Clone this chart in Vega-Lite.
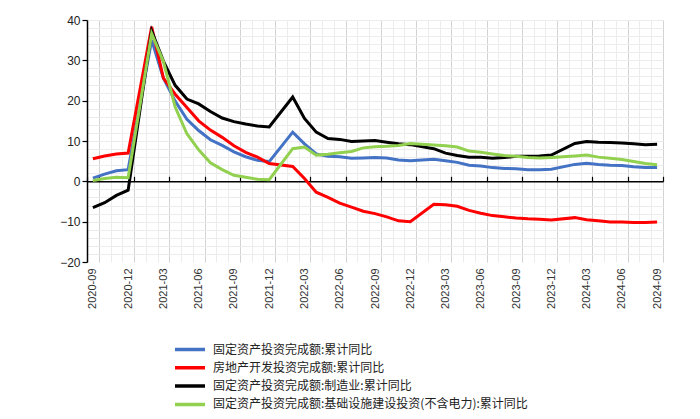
{
  "$schema": "https://vega.github.io/schema/vega-lite/v6.json",
  "width": 576,
  "height": 242,
  "autosize": "none",
  "padding": {"left": 87, "top": 20, "right": 37, "bottom": 157},
  "config": {"view": {"stroke": null}, "axis": {"labelFont": "Liberation Sans", "labelColor": "#333333"}},
  "data": {
    "values": [
      {"month": "2020-09", "固定资产投资完成额:累计同比": 0.8, "房地产开发投资完成额:累计同比": 5.6, "固定资产投资完成额:制造业:累计同比": -6.5, "固定资产投资完成额:基础设施建设投资(不含电力):累计同比": 0.2},
      {"month": "2020-10", "固定资产投资完成额:累计同比": 1.8, "房地产开发投资完成额:累计同比": 6.3, "固定资产投资完成额:制造业:累计同比": -5.3, "固定资产投资完成额:基础设施建设投资(不含电力):累计同比": 0.7},
      {"month": "2020-11", "固定资产投资完成额:累计同比": 2.6, "房地产开发投资完成额:累计同比": 6.8, "固定资产投资完成额:制造业:累计同比": -3.5, "固定资产投资完成额:基础设施建设投资(不含电力):累计同比": 1.0},
      {"month": "2020-12", "固定资产投资完成额:累计同比": 2.9, "房地产开发投资完成额:累计同比": 7.0, "固定资产投资完成额:制造业:累计同比": -2.2, "固定资产投资完成额:基础设施建设投资(不含电力):累计同比": 0.9},
      {"month": "2021-02", "固定资产投资完成额:累计同比": 35.0, "房地产开发投资完成额:累计同比": 38.3, "固定资产投资完成额:制造业:累计同比": 37.3, "固定资产投资完成额:基础设施建设投资(不含电力):累计同比": 36.6},
      {"month": "2021-03", "固定资产投资完成额:累计同比": 25.6, "房地产开发投资完成额:累计同比": 25.6, "固定资产投资完成额:制造业:累计同比": 29.8, "固定资产投资完成额:基础设施建设投资(不含电力):累计同比": 29.7},
      {"month": "2021-04", "固定资产投资完成额:累计同比": 19.9, "房地产开发投资完成额:累计同比": 21.6, "固定资产投资完成额:制造业:累计同比": 23.8, "固定资产投资完成额:基础设施建设投资(不含电力):累计同比": 18.4},
      {"month": "2021-05", "固定资产投资完成额:累计同比": 15.4, "房地产开发投资完成额:累计同比": 18.3, "固定资产投资完成额:制造业:累计同比": 20.4, "固定资产投资完成额:基础设施建设投资(不含电力):累计同比": 11.8},
      {"month": "2021-06", "固定资产投资完成额:累计同比": 12.6, "房地产开发投资完成额:累计同比": 15.0, "固定资产投资完成额:制造业:累计同比": 19.2, "固定资产投资完成额:基础设施建设投资(不含电力):累计同比": 7.8},
      {"month": "2021-07", "固定资产投资完成额:累计同比": 10.3, "房地产开发投资完成额:累计同比": 12.7, "固定资产投资完成额:制造业:累计同比": 17.3, "固定资产投资完成额:基础设施建设投资(不含电力):累计同比": 4.6},
      {"month": "2021-08", "固定资产投资完成额:累计同比": 8.9, "房地产开发投资完成额:累计同比": 10.9, "固定资产投资完成额:制造业:累计同比": 15.7, "固定资产投资完成额:基础设施建设投资(不含电力):累计同比": 2.9},
      {"month": "2021-09", "固定资产投资完成额:累计同比": 7.3, "房地产开发投资完成额:累计同比": 8.8, "固定资产投资完成额:制造业:累计同比": 14.8, "固定资产投资完成额:基础设施建设投资(不含电力):累计同比": 1.5},
      {"month": "2021-10", "固定资产投资完成额:累计同比": 6.1, "房地产开发投资完成额:累计同比": 7.2, "固定资产投资完成额:制造业:累计同比": 14.2, "固定资产投资完成额:基础设施建设投资(不含电力):累计同比": 1.0},
      {"month": "2021-11", "固定资产投资完成额:累计同比": 5.2, "房地产开发投资完成额:累计同比": 6.0, "固定资产投资完成额:制造业:累计同比": 13.7, "固定资产投资完成额:基础设施建设投资(不含电力):累计同比": 0.5},
      {"month": "2021-12", "固定资产投资完成额:累计同比": 4.9, "房地产开发投资完成额:累计同比": 4.4, "固定资产投资完成额:制造业:累计同比": 13.5, "固定资产投资完成额:基础设施建设投资(不含电力):累计同比": 0.4},
      {"month": "2022-02", "固定资产投资完成额:累计同比": 12.2, "房地产开发投资完成额:累计同比": 3.7, "固定资产投资完成额:制造业:累计同比": 20.9, "固定资产投资完成额:基础设施建设投资(不含电力):累计同比": 8.1},
      {"month": "2022-03", "固定资产投资完成额:累计同比": 9.3, "房地产开发投资完成额:累计同比": 0.7, "固定资产投资完成额:制造业:累计同比": 15.6, "固定资产投资完成额:基础设施建设投资(不含电力):累计同比": 8.5},
      {"month": "2022-04", "固定资产投资完成额:累计同比": 6.8, "房地产开发投资完成额:累计同比": -2.7, "固定资产投资完成额:制造业:累计同比": 12.2, "固定资产投资完成额:基础设施建设投资(不含电力):累计同比": 6.5},
      {"month": "2022-05", "固定资产投资完成额:累计同比": 6.2, "房地产开发投资完成额:累计同比": -4.0, "固定资产投资完成额:制造业:累计同比": 10.6, "固定资产投资完成额:基础设施建设投资(不含电力):累计同比": 6.7},
      {"month": "2022-06", "固定资产投资完成额:累计同比": 6.1, "房地产开发投资完成额:累计同比": -5.4, "固定资产投资完成额:制造业:累计同比": 10.4, "固定资产投资完成额:基础设施建设投资(不含电力):累计同比": 7.1},
      {"month": "2022-07", "固定资产投资完成额:累计同比": 5.7, "房地产开发投资完成额:累计同比": -6.4, "固定资产投资完成额:制造业:累计同比": 9.9, "固定资产投资完成额:基础设施建设投资(不含电力):累计同比": 7.4},
      {"month": "2022-08", "固定资产投资完成额:累计同比": 5.8, "房地产开发投资完成额:累计同比": -7.4, "固定资产投资完成额:制造业:累计同比": 10.0, "固定资产投资完成额:基础设施建设投资(不含电力):累计同比": 8.3},
      {"month": "2022-09", "固定资产投资完成额:累计同比": 5.9, "房地产开发投资完成额:累计同比": -8.0, "固定资产投资完成额:制造业:累计同比": 10.1, "固定资产投资完成额:基础设施建设投资(不含电力):累计同比": 8.6},
      {"month": "2022-10", "固定资产投资完成额:累计同比": 5.8, "房地产开发投资完成额:累计同比": -8.8, "固定资产投资完成额:制造业:累计同比": 9.7, "固定资产投资完成额:基础设施建设投资(不含电力):累计同比": 8.7},
      {"month": "2022-11", "固定资产投资完成额:累计同比": 5.3, "房地产开发投资完成额:累计同比": -9.8, "固定资产投资完成额:制造业:累计同比": 9.3, "固定资产投资完成额:基础设施建设投资(不含电力):累计同比": 8.9},
      {"month": "2022-12", "固定资产投资完成额:累计同比": 5.1, "房地产开发投资完成额:累计同比": -10.0, "固定资产投资完成额:制造业:累计同比": 9.1, "固定资产投资完成额:基础设施建设投资(不含电力):累计同比": 9.4},
      {"month": "2023-02", "固定资产投资完成额:累计同比": 5.5, "房地产开发投资完成额:累计同比": -5.7, "固定资产投资完成额:制造业:累计同比": 8.1, "固定资产投资完成额:基础设施建设投资(不含电力):累计同比": 9.0},
      {"month": "2023-03", "固定资产投资完成额:累计同比": 5.1, "房地产开发投资完成额:累计同比": -5.8, "固定资产投资完成额:制造业:累计同比": 7.0, "固定资产投资完成额:基础设施建设投资(不含电力):累计同比": 8.8},
      {"month": "2023-04", "固定资产投资完成额:累计同比": 4.7, "房地产开发投资完成额:累计同比": -6.2, "固定资产投资完成额:制造业:累计同比": 6.4, "固定资产投资完成额:基础设施建设投资(不含电力):累计同比": 8.5},
      {"month": "2023-05", "固定资产投资完成额:累计同比": 4.0, "房地产开发投资完成额:累计同比": -7.2, "固定资产投资完成额:制造业:累计同比": 6.0, "固定资产投资完成额:基础设施建设投资(不含电力):累计同比": 7.5},
      {"month": "2023-06", "固定资产投资完成额:累计同比": 3.8, "房地产开发投资完成额:累计同比": -7.9, "固定资产投资完成额:制造业:累计同比": 6.0, "固定资产投资完成额:基础设施建设投资(不含电力):累计同比": 7.2},
      {"month": "2023-07", "固定资产投资完成额:累计同比": 3.4, "房地产开发投资完成额:累计同比": -8.5, "固定资产投资完成额:制造业:累计同比": 5.7, "固定资产投资完成额:基础设施建设投资(不含电力):累计同比": 6.8},
      {"month": "2023-08", "固定资产投资完成额:累计同比": 3.2, "房地产开发投资完成额:累计同比": -8.8, "固定资产投资完成额:制造业:累计同比": 5.9, "固定资产投资完成额:基础设施建设投资(不含电力):累计同比": 6.4},
      {"month": "2023-09", "固定资产投资完成额:累计同比": 3.1, "房地产开发投资完成额:累计同比": -9.1, "固定资产投资完成额:制造业:累计同比": 6.2, "固定资产投资完成额:基础设施建设投资(不含电力):累计同比": 6.2},
      {"month": "2023-10", "固定资产投资完成额:累计同比": 2.9, "房地产开发投资完成额:累计同比": -9.3, "固定资产投资完成额:制造业:累计同比": 6.2, "固定资产投资完成额:基础设施建设投资(不含电力):累计同比": 5.9},
      {"month": "2023-11", "固定资产投资完成额:累计同比": 2.9, "房地产开发投资完成额:累计同比": -9.4, "固定资产投资完成额:制造业:累计同比": 6.3, "固定资产投资完成额:基础设施建设投资(不含电力):累计同比": 5.8},
      {"month": "2023-12", "固定资产投资完成额:累计同比": 3.0, "房地产开发投资完成额:累计同比": -9.6, "固定资产投资完成额:制造业:累计同比": 6.5, "固定资产投资完成额:基础设施建设投资(不含电力):累计同比": 5.9},
      {"month": "2024-02", "固定资产投资完成额:累计同比": 4.2, "房地产开发投资完成额:累计同比": -9.0, "固定资产投资完成额:制造业:累计同比": 9.4, "固定资产投资完成额:基础设施建设投资(不含电力):累计同比": 6.3},
      {"month": "2024-03", "固定资产投资完成额:累计同比": 4.5, "房地产开发投资完成额:累计同比": -9.5, "固定资产投资完成额:制造业:累计同比": 9.9, "固定资产投资完成额:基础设施建设投资(不含电力):累计同比": 6.5},
      {"month": "2024-04", "固定资产投资完成额:累计同比": 4.2, "房地产开发投资完成额:累计同比": -9.8, "固定资产投资完成额:制造业:累计同比": 9.7, "固定资产投资完成额:基础设施建设投资(不含电力):累计同比": 6.0},
      {"month": "2024-05", "固定资产投资完成额:累计同比": 4.0, "房地产开发投资完成额:累计同比": -10.1, "固定资产投资完成额:制造业:累计同比": 9.6, "固定资产投资完成额:基础设施建设投资(不含电力):累计同比": 5.7},
      {"month": "2024-06", "固定资产投资完成额:累计同比": 3.9, "房地产开发投资完成额:累计同比": -10.1, "固定资产投资完成额:制造业:累计同比": 9.5, "固定资产投资完成额:基础设施建设投资(不含电力):累计同比": 5.4},
      {"month": "2024-07", "固定资产投资完成额:累计同比": 3.6, "房地产开发投资完成额:累计同比": -10.2, "固定资产投资完成额:制造业:累计同比": 9.3, "固定资产投资完成额:基础设施建设投资(不含电力):累计同比": 4.9},
      {"month": "2024-08", "固定资产投资完成额:累计同比": 3.4, "房地产开发投资完成额:累计同比": -10.2, "固定资产投资完成额:制造业:累计同比": 9.1, "固定资产投资完成额:基础设施建设投资(不含电力):累计同比": 4.4},
      {"month": "2024-09", "固定资产投资完成额:累计同比": 3.4, "房地产开发投资完成额:累计同比": -10.1, "固定资产投资完成额:制造业:累计同比": 9.2, "固定资产投资完成额:基础设施建设投资(不含电力):累计同比": 4.1}
    ]
  },
  "transform": [
    {"fold": ["固定资产投资完成额:累计同比", "房地产开发投资完成额:累计同比", "固定资产投资完成额:制造业:累计同比", "固定资产投资完成额:基础设施建设投资(不含电力):累计同比"], "as": ["series", "value"]}
  ],
  "resolve": {"axis": {"x": "independent", "y": "independent"}},
  "layer": [
    {
      "mark": {"type": "line", "opacity": 0},
      "encoding": {
        "x": {"field": "month", "type": "ordinal", "sort": null,
          "scale": {"type": "band", "paddingInner": 0, "paddingOuter": 0, "domain": ["2020-09","2020-10","2020-11","2020-12","2021-01","2021-02","2021-03","2021-04","2021-05","2021-06","2021-07","2021-08","2021-09","2021-10","2021-11","2021-12","2022-01","2022-02","2022-03","2022-04","2022-05","2022-06","2022-07","2022-08","2022-09","2022-10","2022-11","2022-12","2023-01","2023-02","2023-03","2023-04","2023-05","2023-06","2023-07","2023-08","2023-09","2023-10","2023-11","2023-12","2024-01","2024-02","2024-03","2024-04","2024-05","2024-06","2024-07","2024-08","2024-09"]},
          "axis": {"orient": "bottom", "title": null, "labels": false, "ticks": false, "domain": false, "grid": true, "gridColor": "#ececec", "gridWidth": 1, "tickBand": "extent"}},
        "y": {"field": "value", "type": "quantitative",
          "scale": {"domain": [-20, 40], "nice": false, "zero": false},
          "axis": {"orient": "left", "title": null, "labels": false, "ticks": false, "domain": false, "grid": true, "gridColor": "#ececec", "values": [-18,-16,-14,-12,-10,-8,-6,-4,-2,0,2,4,6,8,10,12,14,16,18,20,22,24,26,28,30,32,34,36,38,40]}},
        "detail": {"field": "series"}
      }
    },
    {
      "mark": {"type": "line", "opacity": 0},
      "encoding": {
        "x": {"field": "month", "type": "ordinal", "sort": null,
          "axis": {"orient": "bottom", "title": null, "values": ["2020-09","2020-12","2021-03","2021-06","2021-09","2021-12","2022-03","2022-06","2022-09","2022-12","2023-03","2023-06","2023-09","2023-12","2024-03","2024-06","2024-09"],
            "labelAngle": 270, "labelFontSize": 11, "labelPadding": 6, "ticks": false, "domain": false, "grid": true, "gridColor": "#d3d3d3", "tickBand": "extent"}},
        "y": {"field": "value", "type": "quantitative", "axis": null},
        "detail": {"field": "series"}
      }
    },
    {
      "mark": {"type": "line", "opacity": 0},
      "encoding": {
        "x": {"field": "month", "type": "ordinal", "sort": null,
          "axis": {"orient": "bottom", "title": null, "offset": -80.67, "values": ["2020-09","2020-12","2021-03","2021-06","2021-09","2021-12","2022-03","2022-06","2022-09","2022-12","2023-03","2023-06","2023-09","2023-12","2024-03","2024-06","2024-09"],
            "labels": false, "ticks": true, "tickColor": "#000000", "tickSize": -5, "tickWidth": 1.2, "domain": true, "domainColor": "#000000", "domainWidth": 1.5, "grid": false, "tickBand": "extent"}},
        "y": {"field": "value", "type": "quantitative",
          "axis": {"orient": "left", "title": null, "values": [-20, -10, 0, 10, 20, 30, 40], "labelFontSize": 12, "labelColor": "#222222", "domainColor": "#000000", "domainWidth": 1.5, "tickColor": "#000000", "tickSize": 5, "tickWidth": 1.2, "grid": false}},
        "detail": {"field": "series"}
      }
    },
    {
      "mark": {"type": "line", "strokeWidth": 3},
      "encoding": {
        "x": {"field": "month", "type": "ordinal", "sort": null, "axis": null},
        "y": {"field": "value", "type": "quantitative", "axis": null},
        "color": {"field": "series", "type": "nominal",
          "scale": {"domain": ["固定资产投资完成额:累计同比", "房地产开发投资完成额:累计同比", "固定资产投资完成额:制造业:累计同比", "固定资产投资完成额:基础设施建设投资(不含电力):累计同比"], "range": ["#4472C4", "#FF0000", "#000000", "#92D050"]},
          "legend": {"orient": "none", "legendX": 86, "legendY": 322, "title": null, "symbolType": "stroke", "symbolStrokeWidth": 3.5, "symbolSize": 900, "clipHeight": 15, "labelFont": "Noto Sans CJK SC", "labelFontSize": 12, "labelColor": "#222222", "labelLimit": 400, "rowPadding": 3.3, "labelOffset": 6}}
      }
    }
  ]
}
